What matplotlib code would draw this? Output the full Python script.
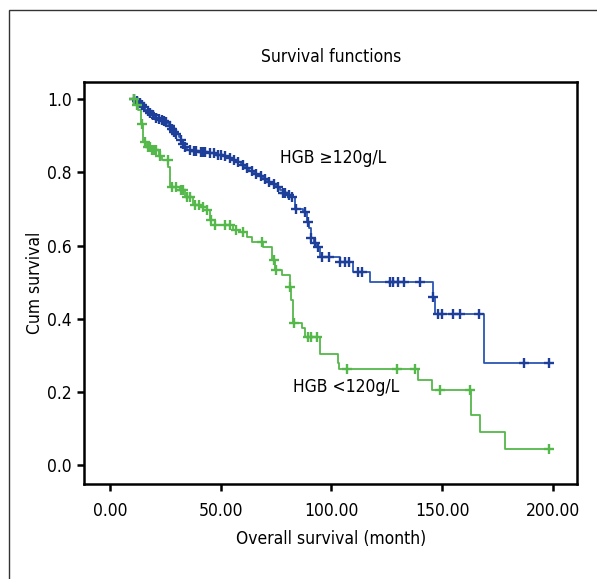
import numpy as np
import matplotlib
matplotlib.use("Agg")
import matplotlib.pyplot as plt
from matplotlib.patches import Rectangle

plt.rcParams['font.family'] = ['Liberation Sans Narrow', 'DejaVu Sans']
plt.rcParams['font.stretch'] = 'condensed'

# HGB >= 120 g/L : step times (months) and survival after each step
high_t = [11, 12, 13, 14, 15, 16, 17, 18, 19, 20, 21, 22, 23, 24, 25, 26, 27, 28,
          29, 30, 31, 32, 33, 34, 35, 37, 40, 44, 48, 51, 53, 55, 57, 59, 61, 63,
          65, 67, 69, 71, 73, 75, 77, 78, 80, 82, 83.6, 87, 89, 90, 91, 92, 93,
          95, 104, 110, 117.5, 146, 146.8, 169]
high_s = [1.0, 0.995, 0.99, 0.985, 0.978, 0.972, 0.968, 0.963, 0.958, 0.953, 0.95,
          0.947, 0.943, 0.94, 0.937, 0.932, 0.927, 0.92, 0.912, 0.905, 0.897, 0.888,
          0.878, 0.87, 0.862, 0.858, 0.855, 0.852, 0.848, 0.845, 0.84, 0.835, 0.828,
          0.82, 0.813, 0.805, 0.797, 0.79, 0.782, 0.775, 0.768, 0.76, 0.752, 0.745,
          0.738, 0.733, 0.70, 0.692, 0.665, 0.647, 0.62, 0.606, 0.595, 0.569, 0.555,
          0.528, 0.50, 0.459, 0.412, 0.277]
high_cens = [11, 12, 13.5, 14.5, 15.5, 17, 18, 19.5, 21, 22, 23.5, 24.5, 25.5, 27,
             28, 29, 30, 32, 33, 34, 36, 38, 39, 41, 42, 43, 45, 47, 49, 50, 52, 54,
             56, 58, 60, 62, 64, 66, 68, 70, 72, 74, 76, 78, 79, 81, 82, 84, 88,
             89.5, 91, 92.5, 94, 96, 99, 104, 106, 108, 112, 114, 126.5, 128, 130,
             133, 140, 146, 148, 150, 155, 158, 166.7, 187, 198.5]
high_end = 198.5

# HGB < 120 g/L
low_t = [11, 11.5, 12.8, 14, 15, 16.6, 18.8, 22, 23.5, 26.3, 27, 31.6, 34, 37.7,
         40.7, 43.7, 45.2, 47.4, 55.7, 58.7, 61.8, 64, 69, 73, 74.5, 77.6, 81.3,
         81.6, 82.8, 86.6, 88.3, 94.9, 103, 103.6, 139.3, 145.3, 163, 167.2, 178.5]
low_s = [1.0, 0.985, 0.971, 0.934, 0.884, 0.87, 0.861, 0.845, 0.834, 0.815, 0.761,
         0.752, 0.733, 0.711, 0.706, 0.697, 0.669, 0.656, 0.642, 0.637, 0.624, 0.61,
         0.596, 0.56, 0.533, 0.519, 0.487, 0.45, 0.387, 0.373, 0.35, 0.304, 0.277,
         0.263, 0.231, 0.204, 0.136, 0.09, 0.044]
low_cens = [11, 12, 14.5, 16, 17, 18, 19, 20, 21, 22.5, 26, 28, 30, 32, 33, 35, 36,
            38.5, 40, 42, 44, 45.5, 47.5, 52, 54, 57, 60, 68.5, 74, 75, 81.5, 83,
            89.5, 91, 93.5, 106.9, 129.5, 137.8, 149.1, 162.7, 198.5]
low_end = 198.5

x_ticks = [0, 50, 100, 150, 200]
y_ticks = [0.0, 0.2, 0.4, 0.6, 0.8, 1.0]

blue = '#2a56b4'
blue_mark = '#1d3f9a'
green = '#55b84a'


def step_value(t, s, x):
    idx = np.searchsorted(t, x, side='right') - 1
    idx = np.clip(idx, 0, len(s) - 1)
    return np.asarray(s)[idx]


fig = plt.figure(figsize=(5.97, 5.79), dpi=100)
ax = fig.add_axes([0.1412, 0.1641, 0.8258, 0.6951])

# outer frame of the original figure
fig.add_artist(Rectangle((9 / 597, -0.1), 1.2, 1 - 10 / 579 + 0.1,
                         transform=fig.transFigure, fill=False,
                         edgecolor='#333333', lw=1.0))

for t, s, end, cens, col, mcol in [(high_t, high_s, high_end, high_cens, blue, blue_mark),
                                   (low_t, low_s, low_end, low_cens, green, green)]:
    tt = list(t) + [end]
    ss = list(s) + [s[-1]]
    ax.step(tt, ss, where='post', color=col, lw=1.3, zorder=2)
    cy = step_value(t, s, np.array(cens))
    ax.plot(cens, cy, ls='none', marker='+', ms=6.5, mew=1.7, color=mcol, zorder=3)

fs = 12.5
ax.text(76.8, 0.839, 'HGB \u2265120g/L', fontsize=fs, va='center', ha='left')
ax.text(82.7, 0.212, 'HGB <120g/L', fontsize=fs, va='center', ha='left')

ax.set_xlim(-11.6, 211.1)
ax.set_ylim(-0.053, 1.049)
ax.set_xticks(x_ticks)
ax.set_xticklabels([f'{v:.2f}' for v in x_ticks])
ax.set_yticks(y_ticks)
ax.set_yticklabels([f'{v:.1f}' for v in y_ticks])
ax.tick_params(axis='x', direction='out', length=5, width=1.8, labelsize=fs, pad=8)
ax.tick_params(axis='y', direction='out', length=5, width=1.8, labelsize=fs, pad=4)
for sp in ax.spines.values():
    sp.set_linewidth(1.8)

ax.set_title('Survival functions', fontsize=fs, pad=14)
ax.set_xlabel('Overall survival (month)', fontsize=fs, labelpad=7)
ax.set_ylabel('Cum survival', fontsize=fs, labelpad=2)

fig.savefig('out.png', dpi=100)
